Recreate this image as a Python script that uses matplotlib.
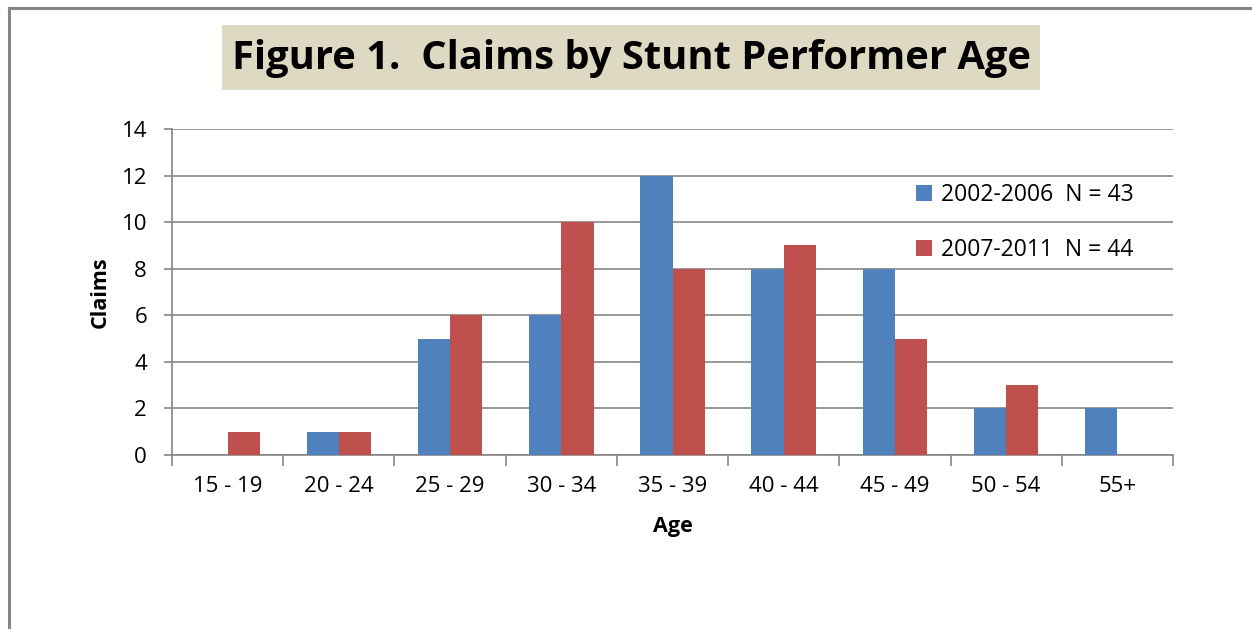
import numpy as np
import matplotlib
matplotlib.use("Agg")
import matplotlib.pyplot as plt
from matplotlib.patches import Rectangle
from matplotlib.lines import Line2D

# Data
age_groups = ['15 - 19', '20 - 24', '25 - 29', '30 - 34', '35 - 39',
              '40 - 44', '45 - 49', '50 - 54', '55+']
claims_2002_2006 = [0, 1, 5, 6, 12, 8, 8, 2, 2]
claims_2007_2011 = [1, 1, 6, 10, 8, 9, 5, 3, 0]
series_labels = ['2002-2006  N = 43', '2007-2011  N = 44']
title = 'Figure 1.  Claims by Stunt Performer Age'

plt.rcParams['font.family'] = ['Open Sans', 'DejaVu Sans']

blue = '#4F81BD'
red = '#C0504D'
grid_gray = '#868686'

fig = plt.figure(figsize=(12.52, 6.29), dpi=100)
ax = fig.add_axes([0.1374, 0.2766, 0.7995, 0.5183])

x = np.arange(len(age_groups))
w = 0.29
ax.bar(x - w / 2, claims_2002_2006, w, color=blue, label=series_labels[0], zorder=3)
ax.bar(x + w / 2, claims_2007_2011, w, color=red, label=series_labels[1], zorder=3)

ax.set_xlim(-0.5, len(age_groups) - 0.5)
ax.set_ylim(0, 14)
ax.set_yticks(np.arange(0, 15, 2))
ax.yaxis.grid(True, color=grid_gray, linewidth=1.2, zorder=0)
ax.set_axisbelow(True)

# category labels centred, tick marks at the category boundaries
ax.set_xticks(x)
ax.set_xticklabels(age_groups, fontsize=16)
ax.tick_params(axis='x', which='major', length=0, pad=15)
ax.set_xticks(np.arange(-0.5, len(age_groups), 1), minor=True)
ax.tick_params(axis='x', which='minor', length=8, width=1.2, color=grid_gray, direction='out')
ax.tick_params(axis='y', length=6, width=1.2, color=grid_gray, labelsize=16, pad=12)

for side in ['top', 'right']:
    ax.spines[side].set_visible(False)
for side in ['left', 'bottom']:
    ax.spines[side].set_color(grid_gray)
    ax.spines[side].set_linewidth(1.2)

ax.set_xlabel('Age', fontsize=15.5, fontweight='bold', labelpad=14)
ax.set_ylabel('Claims', fontsize=15.5, fontweight='bold', labelpad=8)

ax.legend(loc='upper left', bbox_to_anchor=(0.743, 0.835), frameon=False,
          fontsize=16.5, handlelength=0.7, handleheight=0.7, handletextpad=0.4,
          labelspacing=1.38, borderpad=0, borderaxespad=0)

# title box
fig.patches.append(Rectangle((222 / 1252, 1 - 90 / 629), (1040 - 222) / 1252, 65 / 629,
                             transform=fig.transFigure, facecolor='#DDD9C3',
                             edgecolor='none', zorder=0))
fig.text(631 / 1252, 1 - 58 / 629, title, ha='center', va='center',
         fontsize=28.7, fontweight='bold', color='black')

# outer chart frame (only left and top visible)
fig.add_artist(Line2D([8.5 / 1252, 8.5 / 1252], [0, 1 - 7.5 / 629],
                      transform=fig.transFigure, color=grid_gray, linewidth=2.2))
fig.add_artist(Line2D([8.5 / 1252, 1], [1 - 7.5 / 629, 1 - 7.5 / 629],
                      transform=fig.transFigure, color=grid_gray, linewidth=2.2))

fig.savefig('out.png', dpi=100)
